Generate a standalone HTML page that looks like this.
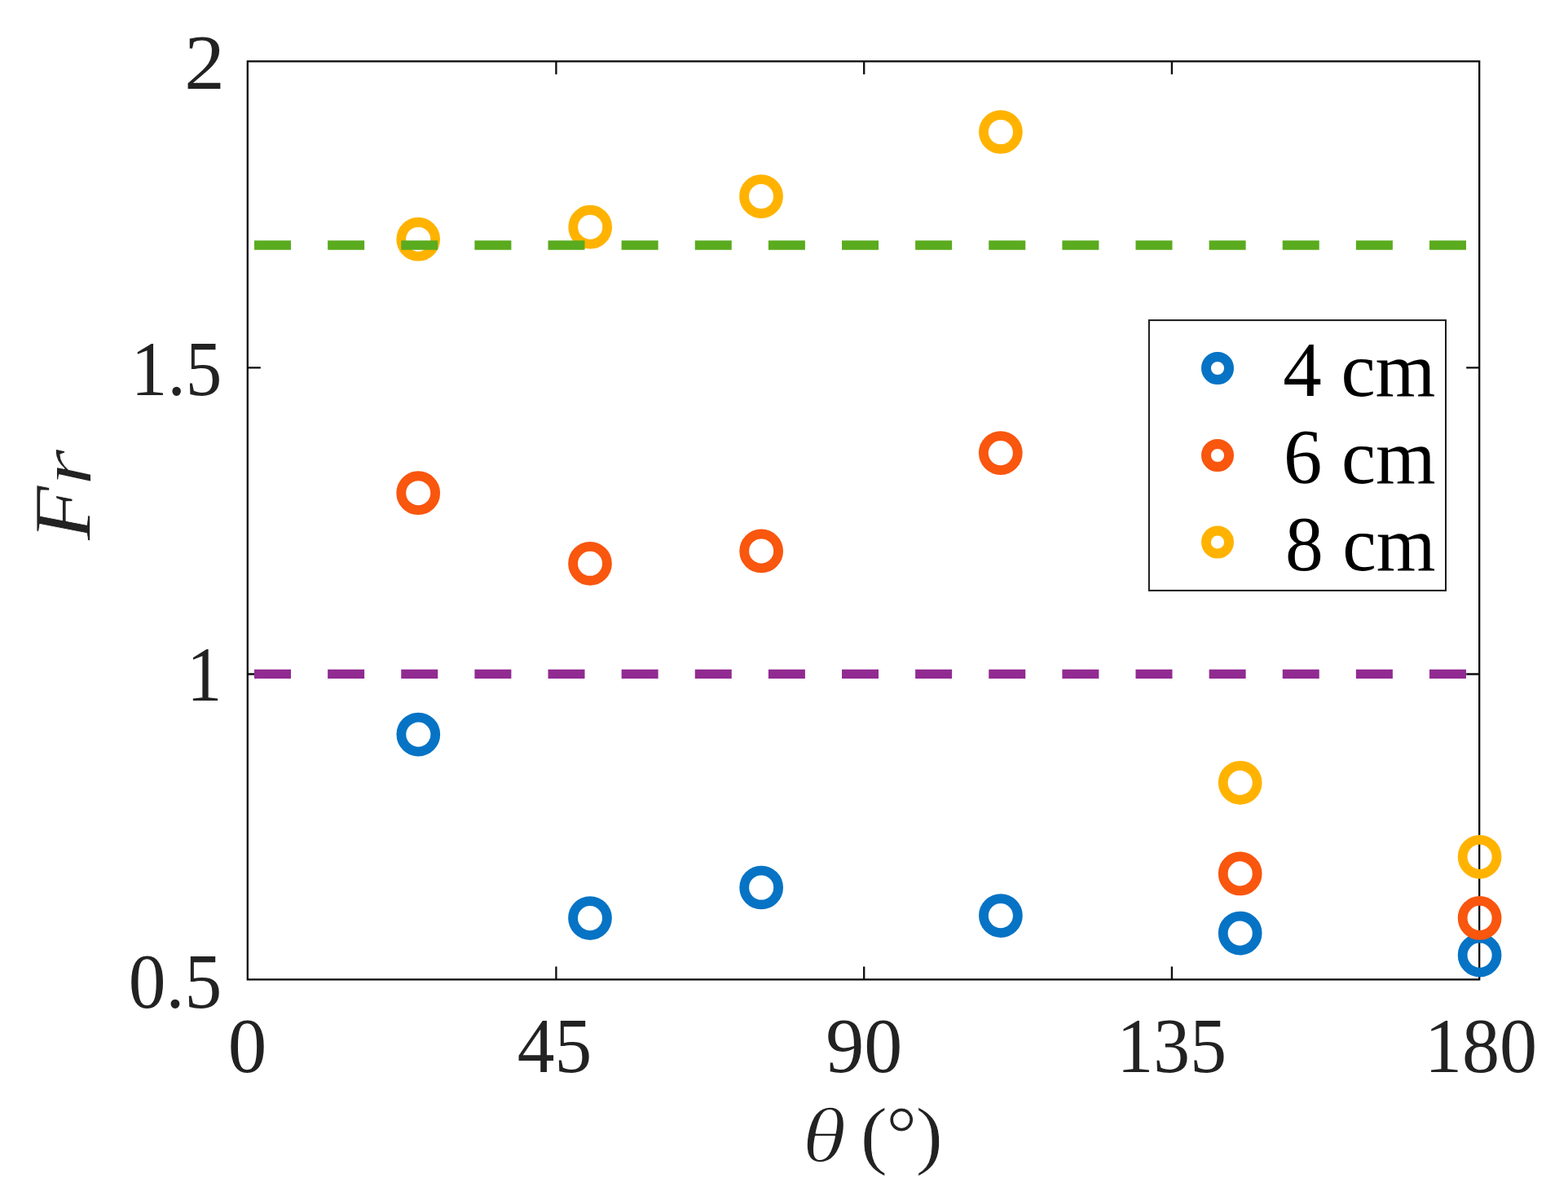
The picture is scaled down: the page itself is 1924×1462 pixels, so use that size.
<!DOCTYPE html>
<html lang="en"><head><meta charset="utf-8"><title>Fr versus θ</title>
<style>
html,body{margin:0;padding:0;background:#fff;}
body{width:1924px;height:1462px;overflow:hidden;}
svg{display:block;}
text{font-family:"Liberation Serif","Times New Roman",Times,serif;}
.it{font-style:italic;}
</style></head><body>
<svg width="1924" height="1462" viewBox="0 0 1924 1462">
<rect x="0" y="0" width="1924" height="1462" fill="#ffffff"/>
<g fill="none" stroke="#0d0d0d" stroke-width="2.3" stroke-linecap="butt" stroke-linejoin="miter">
<rect x="303.8" y="75.3" width="1511.40" height="1127.10"/>
<path d="M682.4 1202.4V1186.4M682.4 75.3V91.3M1060.2 1202.4V1186.4M1060.2 75.3V91.3M1437.9 1202.4V1186.4M1437.9 75.3V91.3M303.8 451.3H319.8M1815.2 451.3H1799.2M303.8 827.5H319.8M1815.2 827.5H1799.2"/>
</g>
<g fill="none" stroke="#0673C5" stroke-width="11.8">
<circle cx="513.3" cy="901.6" r="20.95"/>
<circle cx="724.0" cy="1127.1" r="20.95"/>
<circle cx="934.15" cy="1089.5" r="20.95"/>
<circle cx="1227.9" cy="1124.1" r="20.95"/>
<circle cx="1521.7" cy="1145.6" r="20.95"/>
<circle cx="1815.6" cy="1172.6" r="20.95"/>
</g>
<g fill="none" stroke="#F9560E" stroke-width="11.8">
<circle cx="513.2" cy="605.2" r="20.95"/>
<circle cx="724.0" cy="691.8" r="20.95"/>
<circle cx="934.15" cy="676.45" r="20.95"/>
<circle cx="1227.8" cy="556.1" r="20.95"/>
<circle cx="1521.7" cy="1072.4" r="20.95"/>
<circle cx="1815.6" cy="1126.9" r="20.95"/>
</g>
<g fill="none" stroke="#FFB300" stroke-width="11.8">
<circle cx="513.2" cy="293.7" r="20.95"/>
<circle cx="724.2" cy="278.7" r="20.95"/>
<circle cx="934.0" cy="241.1" r="20.95"/>
<circle cx="1227.9" cy="162.0" r="20.95"/>
<circle cx="1521.7" cy="960.8" r="20.95"/>
<circle cx="1815.6" cy="1051.85" r="20.95"/>
</g>
<g fill="none" stroke-width="11.3" stroke-dasharray="45.0 45.125" stroke-linecap="butt">
<line x1="312.0" y1="827.3" x2="1815.0" y2="827.3" stroke="#912B91"/>
<line x1="312.0" y1="301.0" x2="1815.0" y2="301.0" stroke="#5AAB1E"/>
</g>
<rect x="1409.9" y="393.1" width="364.10" height="331.80" fill="#ffffff" stroke="#1a1a1a" stroke-width="2.0"/>
<circle cx="1494.0" cy="452.0" r="14.05" fill="none" stroke="#0673C5" stroke-width="11.9"/>
<text transform="translate(1574.23 486.1) scale(1.0104 1.02)" font-size="94.0" fill="#000000" xml:space="preserve">4 cm</text>
<circle cx="1494.0" cy="559.0" r="14.05" fill="none" stroke="#F9560E" stroke-width="11.9"/>
<text transform="translate(1574.97 593.0) scale(1.0064 1.02)" font-size="94.0" fill="#000000" xml:space="preserve">6 cm</text>
<circle cx="1494.0" cy="665.5" r="14.05" fill="none" stroke="#FFB300" stroke-width="11.9"/>
<text transform="translate(1577.12 700.1) scale(0.9947 1.02)" font-size="94.0" fill="#000000" xml:space="preserve">8 cm</text>
<g font-size="93.6" fill="#222222">
<text transform="translate(226.25 108.8) scale(1.06 1.02)">2</text>
<text transform="translate(160.84 484.8) scale(0.9524 1.02)">1.5</text>
<text transform="translate(229.13 859.8) scale(0.92 1.02)">1</text>
<text transform="translate(157.78 1236.6) scale(0.9777 1.02)">0.5</text>
<text transform="translate(279.64 1316.1) scale(1.0164 1.02)">0</text>
<text transform="translate(634.69 1316.1) scale(0.9768 1.02)">45</text>
<text transform="translate(1013.29 1316.1) scale(1.0046 1.02)">90</text>
<text transform="translate(1370.5 1316.1) scale(0.958 1.02)">135</text>
<text transform="translate(1747.98 1316.1) scale(0.9844 1.02)">180</text>
</g>
<text fill="#222222" xml:space="preserve"><tspan class="it" x="984.6" y="1425.5" font-size="94.6" textLength="53.8" lengthAdjust="spacingAndGlyphs" stroke="#ffffff" stroke-width="1.5" stroke-linejoin="round">θ</tspan><tspan font-size="92.4"> </tspan><tspan x="1055.6" y="1423.7" font-size="92.4" textLength="33.6" lengthAdjust="spacingAndGlyphs" stroke="#ffffff" stroke-width="0.8" stroke-linejoin="round">(</tspan><tspan x="1087.2" y="1423.9" font-size="95.0" stroke="#ffffff" stroke-width="1.0" stroke-linejoin="round">°</tspan><tspan x="1123.5" y="1423.7" font-size="92.4" textLength="33.6" lengthAdjust="spacingAndGlyphs" stroke="#ffffff" stroke-width="0.8" stroke-linejoin="round">)</tspan></text>
<text class="it" fill="#222222" transform="translate(110.0 663.1) rotate(-90)"><tspan x="-0.2" y="0.3" font-size="99.0" textLength="66.8" lengthAdjust="spacingAndGlyphs" stroke="#ffffff" stroke-width="0.7" stroke-linejoin="round">F</tspan><tspan x="67.0" y="1.0" font-size="91.6" textLength="44.6" lengthAdjust="spacingAndGlyphs" stroke="#ffffff" stroke-width="1.0" stroke-linejoin="round">r</tspan></text>
</svg>
</body></html>
